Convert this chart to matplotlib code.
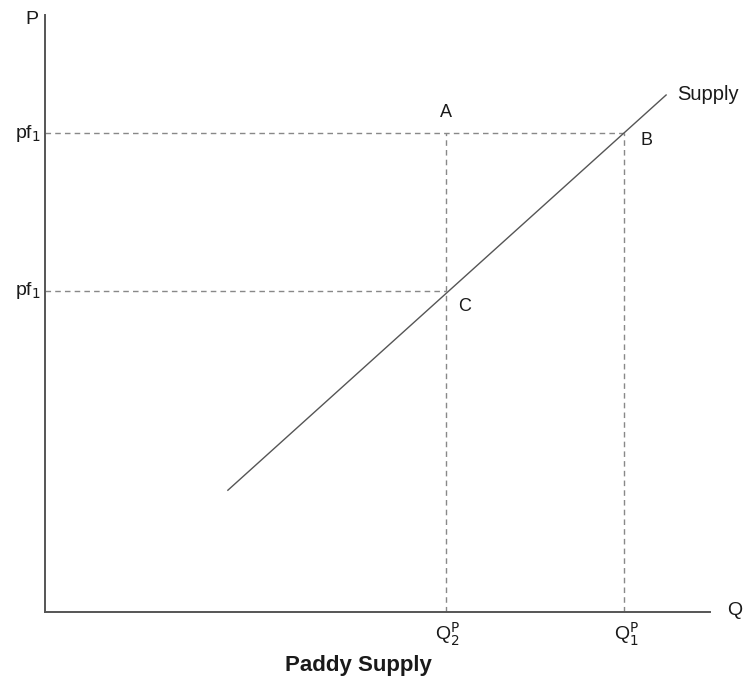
import matplotlib
matplotlib.use("Agg")
import matplotlib.pyplot as plt

plt.rcParams['font.family'] = ['Liberation Sans', 'DejaVu Sans']

# Data (axis units 0..100)
supply_q = [27.5, 93.4]
supply_p = [20.4, 86.6]
q_points = [60.3, 87.1]          # Q^P_2, Q^P_1
q_labels = [r'Q$^{\mathrm{P}}_{2}$', r'Q$^{\mathrm{P}}_{1}$']
p_levels = [80.2, 53.8]          # pf1 (top), pf1 (lower)
p_labels = [r'pf$_{1}$', r'pf$_{1}$']
point_names = ['A', 'B', 'C']

fig = plt.figure(figsize=(7.46, 6.87), dpi=100)
ax = fig.add_axes([45/746, 75/687, 665/746, 597/687])
ax.set_xlim(0, 100)
ax.set_ylim(0, 100)
for s in ['top', 'right']:
    ax.spines[s].set_visible(False)
for s in ['left', 'bottom']:
    ax.spines[s].set_color('#555555')
    ax.spines[s].set_linewidth(1.4)
ax.set_xticks([])
ax.set_yticks([])

dash = dict(color='#888888', lw=1.0, ls=(0, (4, 3)))
# horizontal dashed lines
ax.plot([0, q_points[1]], [p_levels[0], p_levels[0]], **dash)
ax.plot([0, q_points[0]], [p_levels[1], p_levels[1]], **dash)
# vertical dashed lines
ax.plot([q_points[0], q_points[0]], [0, p_levels[0]], **dash)
ax.plot([q_points[1], q_points[1]], [0, p_levels[0]], **dash)

# supply curve
ax.plot(supply_q, supply_p, color='#555555', lw=1.0)

tc = '#1a1a1a'
ax.text(supply_q[1] + 1.6, supply_p[1], 'Supply', fontsize=14.5, ha='left', va='center', color=tc)
ax.text(q_points[0], p_levels[0] + 2.0, point_names[0], fontsize=13, ha='center', va='bottom', color=tc)
ax.text(q_points[1] + 3.4, p_levels[0] - 1.3, point_names[1], fontsize=13, ha='center', va='center', color=tc)
ax.text(q_points[0] + 2.8, p_levels[1] - 2.7, point_names[2], fontsize=13, ha='center', va='center', color=tc)

for q, lab in zip(q_points, q_labels):
    ax.text(q + 0.3, -1.5, lab, fontsize=14, ha='center', va='top', color=tc)
for p, lab in zip(p_levels, p_labels):
    ax.text(-0.7, p, lab, fontsize=14, ha='right', va='center', color=tc)

ax.text(-1.0, 99.2, 'P', fontsize=14, ha='right', va='center', color=tc)
ax.text(102.5, 0.3, 'Q', fontsize=14, ha='left', va='center', color=tc)

fig.text(358/746, 1 - 666/687, 'Paddy Supply', fontsize=16, fontweight='bold', ha='center', va='center', color=tc)

fig.savefig('out.png', dpi=100)
